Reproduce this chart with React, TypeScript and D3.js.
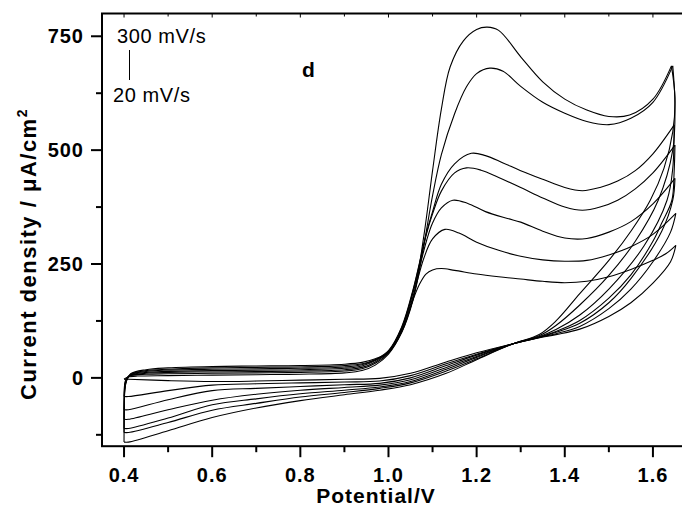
import React from "react";
import * as d3 from "d3";

type P = [number, number];

// scan rates (mV/s)
const scanRates = [20, 50, 100, 150, 200, 250, 300];
const xTicks = [0.4, 0.6, 0.8, 1.0, 1.2, 1.4, 1.6];
const xMinor = [0.5, 0.7, 0.9, 1.1, 1.3, 1.5, 1.7];
const yTicks = [0, 250, 500, 750];
const yMinor = [-125, 125, 375, 625];

// forward / reverse sweeps: [potential V, current density µA/cm2]
const fwd20: P[] = [[0.4,-3],[0.403,-1],[0.41,2],[0.43,4],[0.5,5],[0.6,6],[0.7,7],[0.8,8],[0.9,11],[0.94,16],[0.97,28],[1.0,52],[1.03,100],[1.056,172],[1.07,205],[1.085,228],[1.1,237],[1.12,240],[1.15,236],[1.2,228],[1.25,222],[1.3,217],[1.35,212],[1.4,209],[1.45,212],[1.5,222],[1.55,238],[1.6,258],[1.63,273],[1.652,291]];
const rev20: P[] = [[1.652,291],[1.64,255],[1.6,208],[1.55,165],[1.5,135],[1.434,107],[1.38,95],[1.343,88],[1.283,75],[1.2,55],[1.131,35],[1.05,10],[0.98,-1],[0.9,-3],[0.8,-5],[0.7,-7],[0.6,-8],[0.5,-6],[0.41,-3],[0.4,-3]];

const fwd50: P[] = [[0.4,-41],[0.4005,-25],[0.402,-10],[0.406,0],[0.415,5],[0.45,8],[0.5,9],[0.6,10],[0.7,11],[0.8,12],[0.9,15],[0.94,20],[0.97,32],[1.0,55],[1.03,105],[1.056,180],[1.08,262],[1.1,305],[1.128,326],[1.16,318],[1.2,298],[1.25,280],[1.3,267],[1.35,259],[1.4,256],[1.45,258],[1.5,270],[1.55,288],[1.6,315],[1.652,361]];
const rev50: P[] = [[1.652,361],[1.64,320],[1.6,255],[1.55,195],[1.5,152],[1.434,113],[1.38,97],[1.343,89],[1.283,75],[1.2,52],[1.131,31],[1.05,5],[0.98,-7],[0.9,-9],[0.8,-11],[0.7,-13],[0.6,-16],[0.5,-28],[0.41,-41],[0.4,-41]];

const fwd100: P[] = [[0.4,-70],[0.4005,-40],[0.402,-15],[0.406,-2],[0.415,5],[0.45,10],[0.5,12],[0.6,13],[0.7,14],[0.8,15],[0.9,18],[0.94,23],[0.97,35],[1.0,57],[1.03,108],[1.056,188],[1.086,300],[1.1,340],[1.12,373],[1.146,390],[1.18,383],[1.22,365],[1.27,350],[1.3,342],[1.35,322],[1.4,307],[1.45,306],[1.5,320],[1.55,343],[1.6,382],[1.65,438]];
const rev100: P[] = [[1.65,438],[1.645,390],[1.62,322],[1.55,218],[1.5,165],[1.434,120],[1.38,100],[1.343,89],[1.283,75],[1.2,50],[1.131,27],[1.05,0],[0.98,-12],[0.9,-15],[0.8,-19],[0.7,-23],[0.6,-28],[0.5,-48],[0.41,-70],[0.4,-70]];

const fwd150: P[] = [[0.4,-91],[0.4005,-50],[0.402,-18],[0.406,-3],[0.415,6],[0.45,12],[0.5,14],[0.6,16],[0.7,17],[0.8,18],[0.9,21],[0.94,26],[0.97,38],[1.0,58],[1.03,110],[1.056,192],[1.086,315],[1.1,360],[1.12,410],[1.15,450],[1.177,461],[1.21,456],[1.25,440],[1.3,418],[1.35,395],[1.4,375],[1.44,368],[1.48,375],[1.52,390],[1.56,415],[1.6,450],[1.65,511]];
const rev150: P[] = [[1.65,511],[1.648,450],[1.643,390],[1.62,340],[1.6,300],[1.55,226],[1.5,175],[1.434,126],[1.38,102],[1.343,90],[1.283,75],[1.2,47],[1.131,23],[1.05,-4],[0.98,-16],[0.9,-21],[0.8,-27],[0.7,-36],[0.6,-49],[0.5,-70],[0.41,-91],[0.4,-91]];

const fwd200: P[] = [[0.4,-111],[0.4005,-60],[0.402,-20],[0.406,-4],[0.415,7],[0.45,14],[0.5,17],[0.6,19],[0.7,20],[0.8,21],[0.9,24],[0.94,29],[0.97,40],[1.0,60],[1.03,112],[1.056,195],[1.086,318],[1.1,365],[1.12,425],[1.15,470],[1.188,493],[1.22,488],[1.26,472],[1.3,455],[1.35,436],[1.4,418],[1.44,411],[1.48,418],[1.52,432],[1.56,455],[1.6,492],[1.648,555]];
const rev200: P[] = [[1.648,555],[1.645,460],[1.632,390],[1.58,290],[1.5,195],[1.434,138],[1.38,106],[1.343,91],[1.283,75],[1.2,45],[1.131,19],[1.05,-8],[0.98,-20],[0.9,-27],[0.8,-35],[0.7,-46],[0.6,-59],[0.5,-88],[0.41,-111],[0.4,-111]];

const fwd250: P[] = [[0.4,-120],[0.4005,-65],[0.402,-22],[0.406,-5],[0.415,8],[0.45,16],[0.5,19],[0.6,22],[0.7,23],[0.8,24],[0.9,27],[0.94,31],[0.97,40],[1.0,55],[1.03,100],[1.056,172],[1.08,290],[1.1,400],[1.12,490],[1.15,580],[1.177,639],[1.2,668],[1.23,680],[1.26,673],[1.3,640],[1.35,605],[1.4,581],[1.45,563],[1.5,556],[1.55,570],[1.6,605],[1.645,685]];
const rev250: P[] = [[1.645,685],[1.65,600],[1.645,500],[1.612,390],[1.56,300],[1.5,225],[1.434,160],[1.38,115],[1.343,93],[1.283,75],[1.2,42],[1.131,15],[1.05,-11],[0.98,-23],[0.9,-32],[0.8,-42],[0.7,-56],[0.6,-71],[0.5,-98],[0.41,-120],[0.4,-120]];

const fwd300: P[] = [[0.4,-141],[0.4005,-70],[0.402,-24],[0.406,-6],[0.415,9],[0.45,18],[0.5,22],[0.6,25],[0.7,26],[0.8,27],[0.9,30],[0.94,34],[0.97,42],[1.0,56],[1.03,103],[1.056,175],[1.08,310],[1.1,455],[1.12,590],[1.14,683],[1.17,740],[1.2,765],[1.224,770],[1.25,763],[1.3,705],[1.35,650],[1.4,612],[1.45,588],[1.5,574],[1.547,577],[1.6,612],[1.642,685]];
const rev300: P[] = [[1.642,685],[1.65,615],[1.645,540],[1.625,460],[1.594,390],[1.55,322],[1.5,258],[1.434,185],[1.38,125],[1.343,96],[1.283,75],[1.2,40],[1.131,10],[1.05,-15],[0.98,-27],[0.9,-37],[0.8,-50],[0.7,-66],[0.6,-87],[0.5,-116],[0.41,-141],[0.4,-141]];

const sweeps: P[][] = [fwd20, rev20, fwd50, rev50, fwd100, rev100, fwd150, rev150, fwd200, rev200, fwd250, rev250, fwd300, rev300];

const W = 682, H = 508;
const L = 102, R = 697, T = 13.5, B = 446.2;
const FONT = "'Liberation Sans', Arial, Helvetica, sans-serif";

export default function App() {
  const x = d3.scaleLinear().domain([0.35, 1.7]).range([L, R]);
  const y = d3.scaleLinear().domain([-150, 800]).range([B, T]);
  const line = d3.line<P>().x(d => x(d[0])).y(d => y(d[1])).curve(d3.curveCatmullRom.alpha(0.5));

  return (
    <svg width={W} height={H} style={{ position: "absolute", left: 0, top: 0, background: "#fff" }} fontFamily={FONT}>
      <defs>
        <clipPath id="plot"><rect x={L} y={T} width={R - L} height={B - T} /></clipPath>
      </defs>
      <rect x={0} y={0} width={W} height={H} fill="#fff" />
      <g clipPath="url(#plot)">
        {sweeps.map((s, i) => (
          <path key={i} d={line(s) || ""} fill="none" stroke="#000" strokeWidth={1.1} />
        ))}
      </g>
      {/* frame */}
      <rect x={L} y={T} width={R - L} height={B - T} fill="none" stroke="#000" strokeWidth={2} />
      {/* x ticks */}
      {xTicks.map(t => (
        <g key={"xt" + t}>
          <line x1={x(t)} x2={x(t)} y1={B} y2={B + 11} stroke="#000" strokeWidth={2} />
          <line x1={x(t)} x2={x(t)} y1={T} y2={T + 4} stroke="#000" strokeWidth={1} />
          <text x={x(t)} y={482} textAnchor="middle" fontSize={20} fontWeight="bold" letterSpacing={1}>{t.toFixed(1)}</text>
        </g>
      ))}
      {xMinor.map(t => (
        <g key={"xm" + t}>
          <line x1={x(t)} x2={x(t)} y1={B} y2={B + 6} stroke="#000" strokeWidth={2} />
          <line x1={x(t)} x2={x(t)} y1={T} y2={T + 3} stroke="#000" strokeWidth={1} />
        </g>
      ))}
      {/* y ticks */}
      {yTicks.map(t => (
        <g key={"yt" + t}>
          <line x1={L - 11} x2={L} y1={y(t)} y2={y(t)} stroke="#000" strokeWidth={2} />
          <text x={84} y={y(t) + 7} textAnchor="end" fontSize={20} fontWeight="bold" letterSpacing={1}>{t}</text>
        </g>
      ))}
      {yMinor.map(t => (
        <line key={"ym" + t} x1={L - 6} x2={L} y1={y(t)} y2={y(t)} stroke="#000" strokeWidth={2} />
      ))}
      {/* axis titles */}
      <text x={376} y={503} textAnchor="middle" fontSize={21} fontWeight="bold" letterSpacing={1}>Potential/V</text>
      <text transform={`translate(36,${y(250) - 10}) rotate(-90)`} textAnchor="middle" fontSize={22} fontWeight="bold" letterSpacing={1.5}>
        Current density / μA/cm<tspan dy={-9} fontSize={14}>2</tspan>
      </text>
      {/* legend */}
      <text x={117} y={43} fontSize={20} letterSpacing={0.6}>{`${scanRates[scanRates.length - 1]} mV/s`}</text>
      <line x1={129.5} x2={129.5} y1={50} y2={80} stroke="#000" strokeWidth={1} />
      <text x={113} y={101.5} fontSize={20} letterSpacing={0.6}>{`${scanRates[0]} mV/s`}</text>
      <text x={302} y={77} fontSize={21} fontWeight="bold">d</text>
    </svg>
  );
}
